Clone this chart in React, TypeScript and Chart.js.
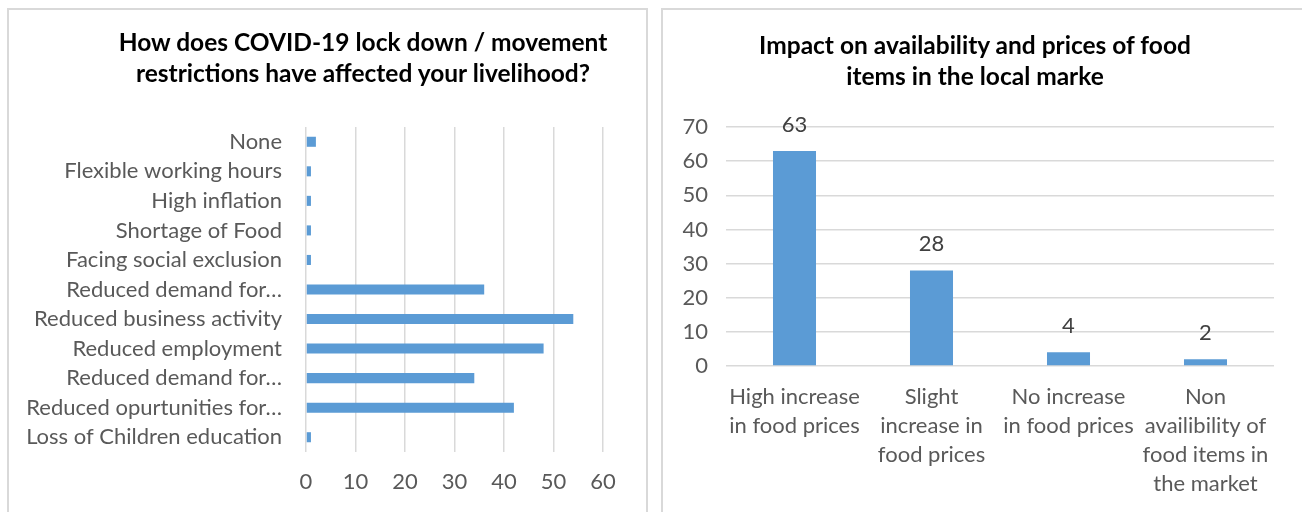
import React, { useEffect, useRef } from "react";
import { Chart, registerables } from "chart.js";

Chart.register(...registerables);

// Left panel: effects of lockdown on livelihood (horizontal bars)
const livelihoodCategories = [
  "None",
  "Flexible working hours",
  "High inflation",
  "Shortage of Food",
  "Facing social exclusion",
  "Reduced demand for…",
  "Reduced business activity",
  "Reduced employment",
  "Reduced demand for…",
  "Reduced opurtunities for…",
  "Loss of Children education",
];
const livelihoodValues = [2, 1, 1, 1, 1, 36, 54, 48, 34, 42, 1];
const livelihoodTicks = [0, 10, 20, 30, 40, 50, 60];

// Right panel: food availability and prices (vertical bars)
const foodCategories = [
  ["High increase", "in food prices"],
  ["Slight", "increase in", "food prices"],
  ["No increase", "in food prices"],
  ["Non", "availibility of", "food items in", "the market"],
];
const foodValues = [63, 28, 4, 2];
const foodTicks = [0, 10, 20, 30, 40, 50, 60, 70];

const FONT = "Lato, 'Open Sans', sans-serif";
const BAR = "#5B9BD5";
const GRID = "#D9D9D9";
const TEXT = "#595959";
const TICK_SIZE = 22;

const valueLabels = {
  id: "valueLabels",
  afterDatasetsDraw(chart: any) {
    const ctx = chart.ctx;
    const meta = chart.getDatasetMeta(0);
    const data = chart.data.datasets[0].data;
    ctx.save();
    ctx.font = `${TICK_SIZE}px ${FONT}`;
    ctx.fillStyle = "#404040";
    ctx.textAlign = "center";
    ctx.textBaseline = "middle";
    meta.data.forEach((bar: any, i: number) => {
      ctx.fillText(String(data[i]), bar.x, bar.y - 26);
    });
    ctx.restore();
  },
};

function LivelihoodChart() {
  const ref = useRef<HTMLCanvasElement>(null);
  useEffect(() => {
    const chart = new Chart(ref.current!, {
      type: "bar",
      data: {
        labels: livelihoodCategories,
        datasets: [
          {
            data: livelihoodValues,
            backgroundColor: BAR,
            categoryPercentage: 1,
            barPercentage: 0.34,
          },
        ],
      },
      options: {
        indexAxis: "y",
        animation: false,
        responsive: false,
        layout: { padding: { top: 117, right: 42, bottom: 20, left: 0 } },
        plugins: { legend: { display: false }, tooltip: { enabled: false } },
        scales: {
          x: {
            min: 0,
            max: 60,
            afterBuildTicks: (s: any) => {
              s.ticks = livelihoodTicks.map((v) => ({ value: v }));
            },
            afterFit: (s: any) => {
              s.height = 40;
            },
            grid: { color: GRID, lineWidth: 1.5, drawTicks: false },
            border: { display: false },
            ticks: { color: TEXT, font: { family: FONT, size: TICK_SIZE }, padding: 17 },
          },
          y: {
            afterFit: (s: any) => {
              s.width = 297;
            },
            grid: { display: false, drawTicks: false },
            border: { display: false },
            ticks: {
              color: TEXT,
              font: { family: FONT, size: TICK_SIZE },
              padding: 24,
              autoSkip: false,
            },
          },
        },
      },
    });
    return () => chart.destroy();
  }, []);
  return <canvas ref={ref} width={636} height={502} />;
}

function FoodChart() {
  const ref = useRef<HTMLCanvasElement>(null);
  useEffect(() => {
    const chart = new Chart(ref.current!, {
      type: "bar",
      data: {
        labels: foodCategories,
        datasets: [
          {
            data: foodValues,
            backgroundColor: BAR,
            categoryPercentage: 1,
            barPercentage: 0.314,
          },
        ],
      },
      options: {
        animation: false,
        responsive: false,
        layout: { padding: { top: 117, right: 28, bottom: 6, left: 0 } },
        plugins: { legend: { display: false }, tooltip: { enabled: false } },
        scales: {
          x: {
            afterFit: (s: any) => {
              s.height = 140;
            },
            grid: { display: false, drawTicks: false },
            border: { display: false },
            ticks: {
              color: TEXT,
              font: { family: FONT, size: TICK_SIZE, lineHeight: 1.32 },
              padding: 16,
              maxRotation: 0,
              autoSkip: false,
            },
          },
          y: {
            min: 0,
            max: 70,
            afterBuildTicks: (s: any) => {
              s.ticks = foodTicks.map((v) => ({ value: v }));
            },
            afterFit: (s: any) => {
              s.width = 63;
            },
            grid: { color: GRID, lineWidth: 1.5, drawTicks: false },
            border: { display: false },
            ticks: { color: TEXT, font: { family: FONT, size: TICK_SIZE }, padding: 18 },
          },
        },
      },
      plugins: [valueLabels],
    });
    return () => chart.destroy();
  }, []);
  return <canvas ref={ref} width={639} height={502} />;
}

const panel: React.CSSProperties = {
  position: "absolute",
  top: 8,
  height: 520,
  border: `2px solid ${GRID}`,
  boxSizing: "border-box",
  background: "#fff",
  overflow: "hidden",
};

const titleStyle: React.CSSProperties = {
  position: "absolute",
  fontFamily: FONT,
  fontWeight: 700,
  fontSize: 24.5,
  lineHeight: "31px",
  color: "#000",
  textAlign: "center",
  whiteSpace: "nowrap",
  transform: "translateX(-50%)",
};

export default function App() {
  return (
    <div
      style={{
        position: "fixed",
        left: 0,
        top: 0,
        width: 1302,
        height: 512,
        background: "#fff",
        overflow: "hidden",
      }}
    >
      <div style={{ ...panel, left: 7, width: 641 }}>
        <div style={{ position: "absolute", left: 0, top: 0 }}>
          <LivelihoodChart />
        </div>
        <div style={{ ...titleStyle, left: 354, top: 16 }}>
          How does COVID-19 lock down / movement
          <br />
          restrictions have affected your livelihood?
        </div>
      </div>
      <div style={{ ...panel, left: 661, width: 660 }}>
        <div style={{ position: "absolute", left: 0, top: 0 }}>
          <FoodChart />
        </div>
        <div style={{ ...titleStyle, left: 312, top: 19 }}>
          Impact on availability and prices of food
          <br />
          items in the local marke
        </div>
      </div>
    </div>
  );
}
